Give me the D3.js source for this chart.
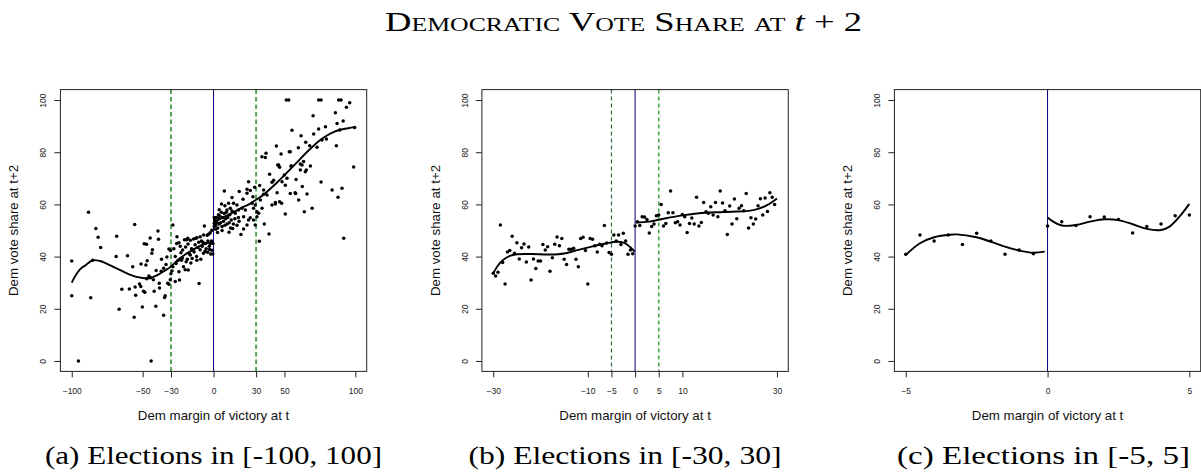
<!DOCTYPE html>
<html><head><meta charset="utf-8">
<script src="https://cdn.jsdelivr.net/npm/d3@7"></script>
<style>body{margin:0;background:#fff}svg{display:block}</style>
</head><body>
<svg id="chart" width="1201" height="473"></svg>
<script>
// ---------- DATA ----------
const ptsA = [
[-100,38.3],[-100,25],[-95.3,0],[-88.2,57],[-86.6,24.2],[-85.2,38.6],[-83,50.8],[-81.4,47.4],[-79.6,43.5],
[-68.3,47.8],[-68.7,40],[-66.6,19.8],[-64.7,27.5],[-60.7,40.3],[-59.4,27.6],[-57,36.1],[-55.6,52.3],[-56,16.8],[-55.3,28.3],[-54.9,25.2],
[-52.2,29.5],[-51.3,28.5],[-50.2,20.7],[-51.1,37.2],[-48.9,44.9],[-47.3,44.7],[-49.4,26.7],[-48.5,26.3],[-47.7,36.8],[-46.8,38.4],[-47.1,31.5],[-44.5,31.9],[-45.6,32.6],
[-44,0],[-44.7,47.1],[-43.1,42.6],[-43.5,41.3],[-42.4,31.1],[-41.9,26.7],[-40.7,21.0],[-40.5,34.7],[-39.2,49.8],[-38.8,46.6],[-38.3,29.8],[-38.1,28],[-36.7,39],[-36.9,34.4],[-35.2,35.5],[-34.5,24.3],[-34.1,25],[-35.2,17.5],[-32.9,39.8],[-31.5,42.9],[-30.3,42.3],[-32.3,29.8],[-31.5,29.4],[-30.5,31.1],[-30.1,33.4],[-33.5,37],
[-28.7,52.1],[-25.8,47.6],[-24.4,45.3],[-23.5,44],[-21.8,42.5],[-19.7,43.7],[-18,44.8],[-16.4,46.3],[-28.7,36.1],[-26.4,37.4],[-24.4,34.2],[-22.6,38.6],[-21.2,36.1],[-19.3,38],[-17.9,34.9],[-16.4,40.6],[-15.1,39.3],[-29.3,34.5],[-28,43],[-27,40],[-26,45],[-25,38.5],[-23,41.5],[-22,39.5],[-20,35],[-19,46.5],[-18.2,47],[-17,41],[-15.5,43],[-27,30.5],[-24,31],[-20.5,46.5],[-18.5,39],[-16,37.5],
[-14.1,46.7],[-13.7,41.8],[-12.5,47],[-11.8,38.6],[-11.7,47.2],[-10.2,29.7],[-9.4,42.6],[-9.4,47.6],[-8.5,46],[-7.1,41.3],[-7,48.3],[-6.5,51.7],[-5.6,45],[-5.2,43],[-4.2,41.7],[-4,46],[-3.5,48.6],[-3,44],[-2.4,45],[-2.4,49.1],[-2,41],[-1.5,46],[-1.2,42.4],[-1.2,50.1],[-0.5,45],[-0.5,41],[-13,44.5],[-12,40],[-10.5,45.5],[-8,44],[-6,42],[-14.5,42.5],[-9,39],[-11,43.5],[-4.5,48.2],[-7.5,45.5],[-2.8,42.7],
[0.5,51.5],[1,54],[1.5,52],[2,55],[2.5,53],[3,51],[3.5,56],[4,52.5],[4.5,55.5],[5,53],[5.5,57],[6,51.5],[6.5,55],[7,53.5],[7.5,56.5],[8,52],[8.5,54.5],[9,57],[9.5,52.5],[10,55],[11,53],[11.5,56],[12,51],[12.5,54],[13,57.5],[14,52.5],[0.5,55],[1.2,53.5],[2.8,49.2],[3.5,54.5],[6,50],[10.9,49.3],[13.5,50.8],[15,54.5],[16.5,52],[17.5,55],[18,53.5],[19.3,48.5],[8,59.5],[4,58],[1.5,50.5],[0.5,52.8],
[5.6,60.2],[7.6,65.1],[13,62.6],[18.1,64.9],[20.8,62],[23.6,64.3],[25.9,65.3],[27.8,62.9],[29,66.6],[32.3,45.9],
[9.5,57.9],[10.6,60.4],[11.8,58.5],[14.1,60.4],[15.3,56.6],[16.5,59.8],[17.6,57.9],[20,58.5],[21.2,55.3],[22.4,57.9],[24.7,54],[25.9,54.9],[23.6,52.1],[21.2,50.6],[24.7,68.7],[23.6,65.8],[27.1,60.4],[28.2,58.5],[29.4,59.8],[30.6,57.2],[28.2,54],[30.6,55.3],[31.8,56.6],[34.2,58.5],[29.4,52.1],[33,61.7],[35.3,63.9],[37.7,63.6],[32.5,67.2],[35.3,65.5],
[34.1,78.3],[37,79.6],[36.5,78],[39.5,71.6],[39.1,48.7],[35.8,52.5],[41.2,59.8],[43.6,60.7],[46.6,61],[48,60.4],[41.2,68.5],[42.4,69.3],[44.8,64.5],[48.3,68.7],[50.6,67.3],[51.8,70],[47.6,79.3],[45.9,75.1],[53.4,80.2],[49.9,71.3],[50.6,56.3],[54.1,64.2],[54.9,74.7],[57.9,64.2],[60,61.7],[64,57.2],[61.2,73.2],[62.4,75.1],[44.3,82.4],[45.2,75.1],[46.6,74.2],[43.6,60.2],
[51.3,100],[53,100],[74.1,100],[75.8,100],[88.2,100],[89.9,100],[96,99],[93.7,97.2],[85.9,95.1],[70.2,94],[91.4,92],[87.1,91],[78.9,89.8],[74.1,88.9],[55.3,88.4],[89,88.5],[99.5,89.5],[70.6,87],[61.7,86.3],[79.6,85.1],[76.5,84.7],[65,83.8],[67.8,82.5],[59.8,81.7],[73,81.9],[86.6,82.5],[54.1,80.2],[63.5,76.4],[61.2,75.5],[68.3,74.7],[54.6,74.7],[65.4,73.2],[64.7,72.5],[98.8,74.3],[58.2,69.5],[62.6,66.9],[75.8,68.6],[83.6,65.5],[90.6,66.2],[57.5,64.5],[65.9,64],[87.8,62.7],[69.5,58.5],[91.8,47]
];
const fitALeft = [[-100,30],[-97,33],[-94,35.2],[-90,36.8],[-85.2,38.6],[-80,38.3],[-75,37.2],[-70,35.9],[-65,34.6],[-60,33.3],[-55,32.3],[-50,31.8],[-45,31.8],[-40,32.8],[-35,34.4],[-30,36.2],[-25,38.8],[-20,40.8],[-15,42.4],[-10,44],[-5,45.2],[-2,45.3],[-0.3,45]];
const fitARight = [[0.3,53.3],[3,54],[6,54.8],[10,55.9],[15,57.3],[20,58.8],[25,60],[30,61.8],[35,63.6],[40,66],[45,68.5],[50,71.2],[55,74],[60,76.8],[65,79.6],[70,82.2],[75,84.6],[80,86.4],[85,87.8],[90,88.7],[95,89.2],[100,89.6]];

const ptsB = [
[-30,33.6],[-29.5,32.6],[-29,34.0],[-28.5,52.1],[-28,37.7],[-27.5,29.5],[-27,41.8],[-26.5,42.3],[-26,47.8],[-25.5,41.3],
[-25,45.3],[-24.5,39.1],[-24,43.4],[-23.5,44.8],[-23,37.9],[-22.5,43.7],[-22,31.0],[-21.5,39.1],[-21,35.4],[-20.5,38.3],
[-20,38.3],[-19.5,44.6],[-19,42.5],[-18.5,43.8],[-18,34.4],[-17.5,39.6],[-17,44.7],[-16.5,47.5],[-16,44.2],[-15.5,46.9],
[-15,39.0],[-14.5,37.0],[-14,42.8],[-13.5,42.8],[-13,43.2],[-12.5,39.0],[-12,36.1],[-11.5,46.9],[-11,47.4],[-10.5,42.3],
[-10,29.5],[-9.5,46.9],[-9,46.6],[-8.5,44.2],[-8,41.8],[-7.5,44.7],[-7,44.2],[-6.5,51.9],[-6,45.2],[-5.5,41.6],
[-5,40.9],[-4.5,48.3],[-4,46.0],[-3.5,48.3],[-3,44.6],[-2.5,48.9],[-2,46.0],[-1.5,40.9],[-1,42.5],[-0.5,41.1],
[0,51.7],[0.5,53.4],[1,51.9],[1.5,55.3],[2,55.2],[2.5,54.2],[3,49.0],[3.5,51.5],[4,52.5],[4.5,55.7],
[5,55.9],[5.5,60.0],[6,51.7],[6.5,52.7],[7,56.8],[7.5,65.1],[8,56.8],[8.5,53.0],[9,53.4],[9.5,52.1],
[10,56.1],[10.5,55.3],[11,49.2],[11.5,52.7],[12,54.8],[12.5,52.5],[13,62.7],[13.5,51.7],[14,53.1],[14.5,60.7],
[15,57.2],[15.5,56.6],[16,59.1],[16.5,55.9],[17,60.7],[17.5,55.3],[18,65.1],[18.5,60.5],[19,57.6],[19.5,48.5],
[20,59.4],[20.5,52.5],[21,62.1],[21.5,54.5],[22,58.5],[22.5,59.5],[23,57.6],[23.5,64.2],[24,51.0],[24.5,54.9],
[25,52.5],[25.5,54.4],[26,59.5],[26.5,62.2],[27,55.9],[27.5,62.5],[28,57.3],[28.5,64.5],[29,62.7],[29.5,60.0]
];
const fitBLeft = [[-30,33.6],[-29,36.6],[-28,38.6],[-26.5,40.3],[-25,40.9],[-22,41],[-18,40.8],[-15,41.2],[-12,42.6],[-9,43.9],[-6,45.1],[-4,45.7],[-3,45.6],[-2,45],[-1,43.6],[-0.1,41.9]];
const fitBRight = [[0.1,53],[3,53.4],[6,54.5],[10,55.8],[13.5,56.6],[17,57],[20.5,57.2],[24,57.5],[26,58.3],[28,59.8],[30,62.3]];

const fitCLeft = [[-5,40.6],[-4.5,45.1],[-4,47.4],[-3.5,48.3],[-3.2,48.5],[-2.5,47.4],[-2,45.7],[-1.5,43.8],[-1,42.3],[-0.5,41.5],[-0.1,41.9]];
const fitCRight = [[0,55],[0.2,53.4],[0.5,51.9],[1,52.1],[1.5,53.4],[2,54.3],[2.5,54],[3,52.4],[3.5,50.6],[4,50.2],[4.3,51.5],[4.65,55.3],[5,60.2]];

const ticksA = [-100,-50,-30,0,30,50,100];
const ticksB = [-30,-10,-5,0,5,10,30];
const ticksC = [-5,0,5];
const yTicks = [0,20,40,60,80,100];
const captions = ["(a) Elections in [-100, 100]", "(b) Elections in [-30, 30]", "(c) Elections in [-5, 5]"];
const xTitle = "Dem margin of victory at t";
const yTitle = "Dem vote share at t+2";

// ---------- LAYOUT ----------
const svg = d3.select("#chart");
const yTop = 89.6, yBot = 371.4;
const y = d3.scaleLinear().domain([-4,104]).range([yBot, yTop]);
const ptsC = ptsB.filter(d => d[0] >= -5 && d[0] <= 5);

const panels = [
  {l:60.4, r:366.7, lim:108, ticks:ticksA, pts:ptsA, fits:[fitALeft, fitARight],
   rules:[{v:-30,c:"#5aa25a",w:2,d:"4.5,3"},{v:30,c:"#5aa25a",w:2,d:"4.5,3"}], cap:captions[0], capX:213.5, capW:337},
  {l:481.9, r:788.3, lim:32.4, ticks:ticksB, pts:ptsB, fits:[fitBLeft, fitBRight],
   rules:[{v:-5,c:"#3a6b3a",w:1.2,d:"4,3"},{v:5,c:"#44a044",w:1.5,d:"4,3"}], cap:captions[1], capX:625, capW:313},
  {l:894.4, r:1200.7, lim:5.4, ticks:ticksC, pts:ptsC, fits:[fitCLeft, fitCRight],
   rules:[], cap:captions[2], capX:1043.5, capW:293}
];

const sans = "'Liberation Sans', Arial, Helvetica, sans-serif";
const serif = "'Liberation Serif', 'Times New Roman', serif";

panels.forEach(p => {
  const x = d3.scaleLinear().domain([-p.lim, p.lim]).range([p.l, p.r]);
  const g = svg.append("g");

  g.append("line").attr("x1", x(0)).attr("x2", x(0)).attr("y1", yTop).attr("y2", yBot)
    .attr("stroke", "#000080").attr("stroke-width", 1);
  p.rules.forEach(r => {
    g.append("line").attr("x1", x(r.v)).attr("x2", x(r.v)).attr("y1", yTop).attr("y2", yBot)
      .attr("stroke", r.c).attr("stroke-width", r.w).attr("stroke-dasharray", r.d);
  });

  g.selectAll("circle.pt").data(p.pts).join("circle").attr("class","pt")
    .attr("cx", d => x(d[0])).attr("cy", d => y(d[1])).attr("r", 1.75).attr("fill", "#000");

  const line = d3.line().x(d => x(d[0])).y(d => y(d[1])).curve(d3.curveCatmullRom.alpha(0.5));
  p.fits.forEach(f => {
    g.append("path").attr("d", line(f)).attr("fill","none").attr("stroke","#000").attr("stroke-width",1.9);
  });

  g.append("rect").attr("x", p.l).attr("y", yTop).attr("width", p.r - p.l).attr("height", yBot - yTop)
    .attr("fill","none").attr("stroke","#222").attr("stroke-width",1);

  const xa = g.append("g").attr("transform", `translate(0,${yBot})`)
    .call(d3.axisBottom(x).tickValues(p.ticks).tickSize(6).tickSizeOuter(0).tickPadding(11).tickFormat(d3.format("d")));
  xa.select(".domain").remove();
  xa.selectAll("line").attr("stroke","#222");
  xa.selectAll("text").attr("font-family", sans).attr("font-size", 8.5).attr("fill","#222");

  const ya = g.append("g").attr("transform", `translate(${p.l},0)`)
    .call(d3.axisLeft(y).tickValues(yTicks).tickSize(6).tickSizeOuter(0));
  ya.select(".domain").remove();
  ya.selectAll("line").attr("stroke","#222");
  ya.selectAll("text").attr("font-family", sans).attr("font-size", 8.5).attr("fill","#222")
    .attr("transform","rotate(-90)").attr("x",0).attr("y",-14).attr("dy",0).attr("text-anchor","middle");

  g.append("text").attr("x", x(0)).attr("y", 419.5).attr("text-anchor","middle")
    .attr("font-family", sans).attr("font-size", 13.3).attr("fill","#111").text(xTitle);
  g.append("text").attr("transform", `translate(${p.l - 42},${(yTop+yBot)/2}) rotate(-90)`)
    .attr("text-anchor","middle").attr("font-family", sans).attr("font-size", 13.3).attr("fill","#111").text(yTitle);

  g.append("text").attr("x", p.capX).attr("y", 464).attr("text-anchor","middle")
    .attr("font-family", serif).attr("font-size", 25).attr("fill","#000")
    .attr("textLength", p.capW).attr("lengthAdjust","spacingAndGlyphs").text(p.cap);
});

const t = svg.append("text").attr("x", 623.5).attr("y", 31).attr("text-anchor","middle")
  .attr("font-family", serif).attr("font-size", 27).attr("fill","#000")
  .attr("textLength", 477).attr("lengthAdjust","spacingAndGlyphs");
t.append("tspan").style("font-variant","small-caps").text("Democratic Vote Share at ");
t.append("tspan").attr("font-style","italic").text("t");
t.append("tspan").text(" + 2");
</script>
</body></html>
